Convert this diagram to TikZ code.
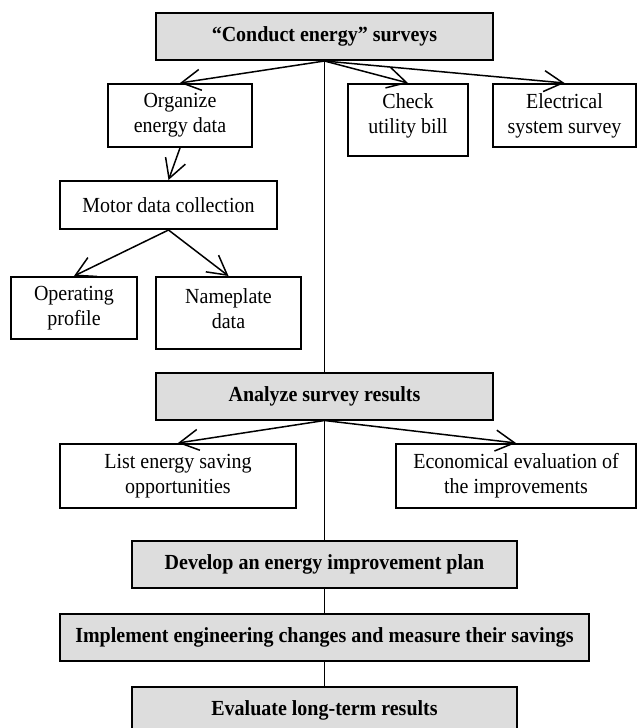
\documentclass[tikz,border=0pt]{standalone}
\usepackage{fontspec}
\setmainfont[FakeStretch=0.93]{Liberation Serif}
\usetikzlibrary{arrows.meta,positioning}
\definecolor{stepgray}{RGB}{221,221,221}

\begin{document}
\begin{tikzpicture}[
    x=1pt, y=1pt,
    node distance=24pt,
    font=\fontsize{21.5}{25}\selectfont,
    mainstep/.style={rectangle, draw=black, line width=2pt, fill=stepgray,
                 minimum height=47pt, inner sep=0pt, font=\fontsize{21.5}{25}\selectfont\bfseries},
    substep/.style={rectangle, draw=black, line width=2pt, fill=white,
                 inner sep=0pt, align=center},
    arr/.style={-{Straight Barb[length=19pt, width=21pt, line width=1.5pt]}, line width=1.5pt},
    link/.style={line width=1.5pt}
]
\useasboundingbox (0,0) rectangle (637,-728);

\node[mainstep, minimum width=337pt] (survey) at (324.5,-36.5) {``Conduct energy'' surveys};
\node[substep, minimum width=144pt, minimum height=63pt] (organize) at (180,-115.5) {Organize\\energy data};
\node[substep, minimum width=120pt, minimum height=72pt,
      label={[align=center, yshift=4.5pt]center:{Check\\utility bill}}] (check) at (408,-120) {};
\node[substep, minimum width=143pt, minimum height=63pt] (electrical) at (564.5,-115.5) {Electrical\\system survey};
\node[substep, minimum width=217pt, minimum height=48pt] (motor) at (168.5,-205) {Motor data collection};
\node[substep, minimum width=126pt, minimum height=62pt] (operating) at (74,-308) {Operating\\profile};
\node[substep, minimum width=145pt, minimum height=72pt,
      label={[align=center, yshift=4.5pt]center:{Nameplate\\data}}] (nameplate) at (228.5,-313) {};

\node[mainstep, minimum width=337pt] (analyze) at (324.5,-396) {Analyze survey results};
\node[substep, minimum width=236pt, minimum height=64pt] (list) at (178,-476) {List energy saving\\opportunities};
\node[substep, minimum width=240pt, minimum height=64pt] (econ) at (516,-476) {Economical evaluation of\\the improvements};

\node[mainstep, minimum width=385pt] (develop) at (324.5,-564.5) {Develop an energy improvement plan};
\node[mainstep, minimum width=529pt, below=of develop] (implement) {Implement engineering changes and measure their savings};
\node[mainstep, minimum width=385pt, below=of implement] (evaluate) {Evaluate long-term results};

\draw[arr] (survey.south) -- (organize.north);
\draw[arr] (survey.south) -- (check.north);
\draw[arr] (survey.south) -- (electrical.north);
\draw[link] (survey.south) -- (analyze.north);
\draw[arr] (organize.south) -- (motor.north);
\draw[arr] (motor.south) -- (operating.north);
\draw[arr] (motor.south) -- (nameplate.north);
\draw[arr] (analyze.south) -- (list.north);
\draw[arr] (analyze.south) -- (econ.north);
\draw[link] (analyze.south) -- (develop.north);
\draw[link] (develop) -- (implement);
\draw[link] (implement) -- (evaluate);
\end{tikzpicture}
\end{document}
